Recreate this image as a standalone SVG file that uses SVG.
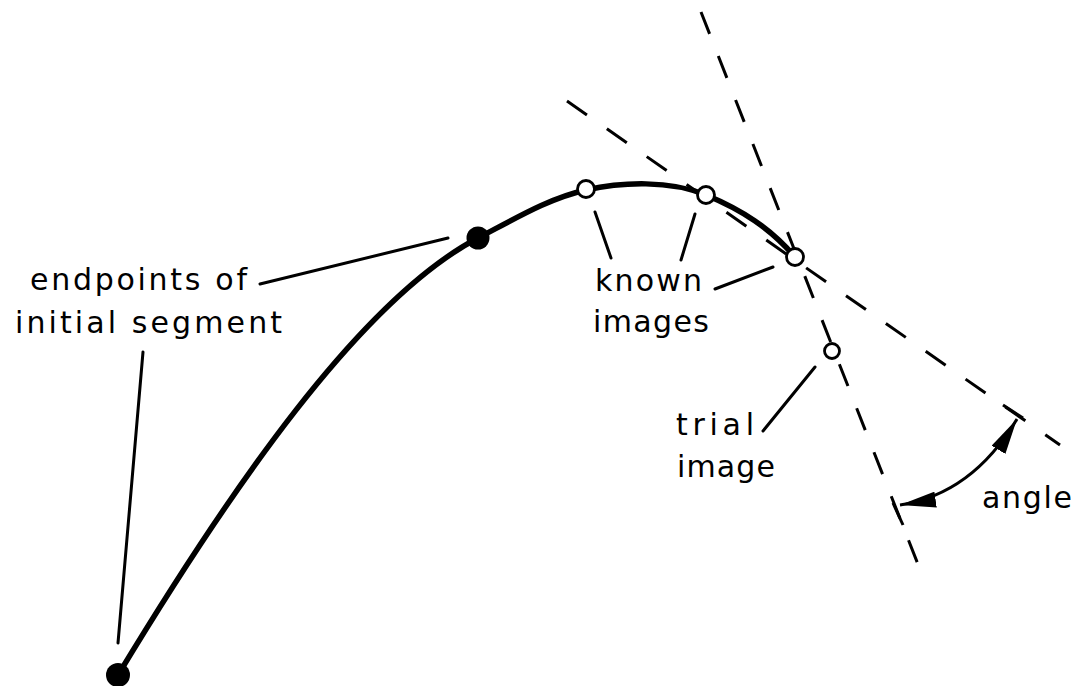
<svg xmlns="http://www.w3.org/2000/svg" width="1076" height="686" viewBox="0 0 1076 686">
  <style>
    .label { font-family: "DejaVu Sans", "Liberation Sans", sans-serif; font-size: 30px; fill: #000; }
    .curve { fill: none; stroke: #000; stroke-width: 5.5; stroke-linecap: round; }
    .leader { fill: none; stroke: #000; stroke-width: 3; stroke-linecap: round; }
    .dash { fill: none; stroke: #000; stroke-width: 3; }
    .tick { fill: none; stroke: #000; stroke-width: 3; stroke-linecap: butt; }
    .solid { fill: #000; stroke: none; }
    .hollow { fill: #fff; stroke: #000; stroke-width: 2.8; }
    .sweep { fill: none; stroke: #000; stroke-width: 3; }
  </style>
  <defs>
    <marker id="head" viewBox="0 0 36 16" refX="36" refY="8" markerWidth="36" markerHeight="16"
            markerUnits="userSpaceOnUse" orient="auto-start-reverse">
      <path d="M0,0 L36,8 L0,16 z" fill="#000"/>
    </marker>
  </defs>
  <rect width="1076" height="686" fill="#fff"/>

  <!-- construction lines: tangent and chord directions -->
  <g id="guides">
    <path class="dash" d="M701,12 L921,572" stroke-dasharray="23.5 23.8"/>
    <path class="dash" d="M567,101 L1060,445" stroke-dasharray="24.3 24.3"/>
    <path class="tick" d="M893,503 L903,525"/>
    <path class="tick" d="M1003,405 L1023,418"/>
  </g>

  <!-- the traced curve -->
  <g id="curve">
    <path class="curve" d="M118,675 C230,490 360,300 478,238 C518,217 550,198 586,190 C622,182 670,180 706,195 C742,210 770,228 795,257"/>
  </g>

  <!-- leader lines from labels to points -->
  <g id="connectors">
    <path class="leader" d="M260,284 L448,238"/>
    <path class="leader" d="M143,352 L118,643" stroke-width="2.5"/>
    <path class="leader" d="M595,212 L611,258"/>
    <path class="leader" d="M695,214 L681,260"/>
    <path class="leader" d="M773,267 L715,289"/>
    <path class="leader" d="M815,367 L763,431"/>
    <path id="angle-arrow" class="sweep" d="M900,505 Q972,494 1017,419" marker-start="url(#head)" marker-end="url(#head)"/>
  </g>

  <!-- points on the curve -->
  <g id="endpoint-start"><circle class="solid" cx="118" cy="675" r="12"/></g>
  <g id="endpoint-end"><circle class="solid" cx="478" cy="238" r="11.5"/></g>
  <g id="known-1"><circle class="hollow" cx="586" cy="189" r="8.5"/></g>
  <g id="known-2"><circle class="hollow" cx="706" cy="195" r="8.5"/></g>
  <g id="known-3"><circle class="hollow" cx="795" cy="257" r="8.5"/></g>
  <g id="trial"><circle class="hollow" cx="832" cy="351" r="7.5"/></g>

  <!-- labels -->
  <g id="label-endpoints">
    <text class="label" x="30" y="290" textLength="217" lengthAdjust="spacing">endpoints of</text>
    <text class="label" x="15" y="333" textLength="267" lengthAdjust="spacing">initial segment</text>
  </g>
  <g id="label-known">
    <text class="label" x="595" y="291" textLength="107" lengthAdjust="spacing">known</text>
    <text class="label" x="593" y="332" textLength="116" lengthAdjust="spacing">images</text>
  </g>
  <g id="label-trial">
    <text class="label" x="676" y="435" textLength="78" lengthAdjust="spacing">trial</text>
    <text class="label" x="677" y="477" textLength="98" lengthAdjust="spacing">image</text>
  </g>
  <g id="label-angle">
    <text class="label" x="982" y="508" textLength="90" lengthAdjust="spacing">angle</text>
  </g>
</svg>
